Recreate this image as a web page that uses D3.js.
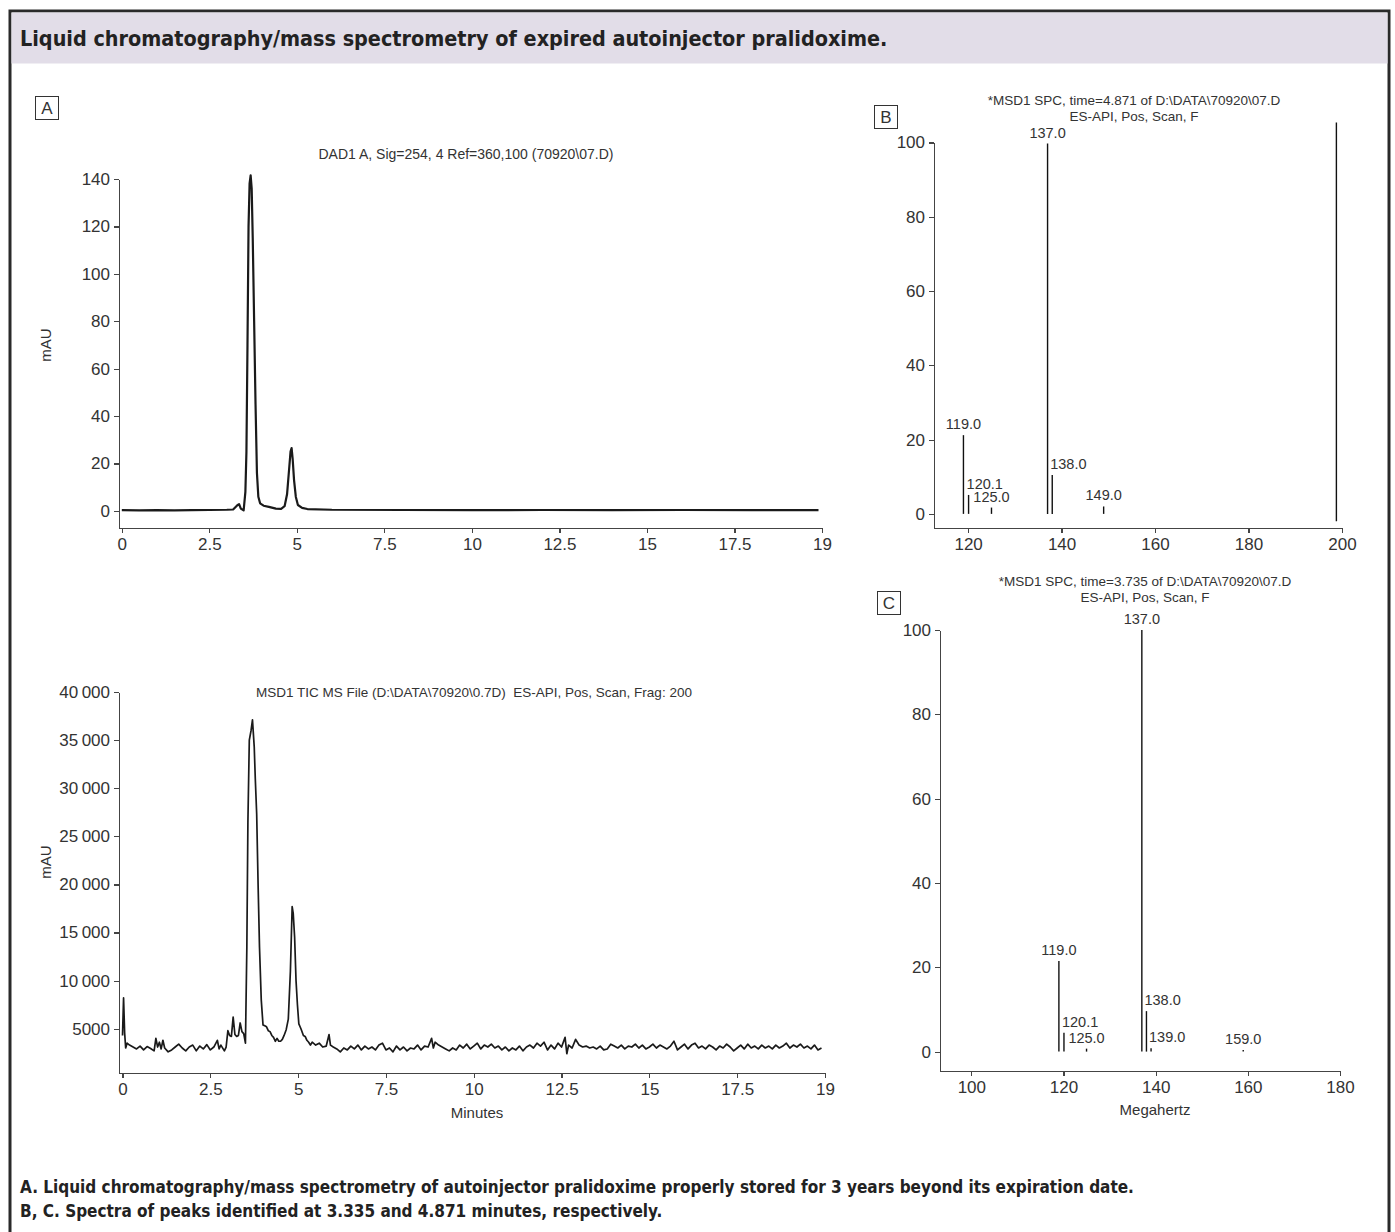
<!DOCTYPE html>
<meta charset="utf-8">
<html>
<head>
<script src="https://d3js.org/d3.v7.min.js" charset="utf-8"></script>
</head>
<style>

body { margin: 0; background: #fff; }

.axis path, .axis line {
  stroke: #444;
  stroke-width: 1.2;
  shape-rendering: crispEdges;
}

.axis text {
  fill: #333;
  font: 17px "Liberation Sans", Arial, sans-serif;
}

.lbl {
  fill: #333;
  font-family: "Liberation Sans", Arial, sans-serif;
}

.head {
  fill: #222;
  font-family: "Liberation Sans Narrow", "DejaVu Sans Condensed", sans-serif;
  font-weight: bold;
}

</style>
<body>
<svg width="1395" height="1232"></svg>

<script type="text/javascript">
// A, top: DAD1 UV trace (minutes, mAU)
var dadTrace = [
  [0, 0.3], [0.5, 0.2], [1.0, 0.3], [1.5, 0.2], [2.0, 0.3], [2.5, 0.4], [3.0, 0.5],
  [3.18, 0.6], [3.3, 2.4], [3.35, 2.9], [3.4, 1.0], [3.48, 0.2], [3.53, 8], [3.56, 25],
  [3.59, 70], [3.62, 120], [3.65, 138], [3.68, 141.5], [3.71, 136], [3.74, 115],
  [3.78, 80], [3.82, 45], [3.86, 16], [3.9, 6], [3.95, 3.2], [4.05, 2.2], [4.2, 1.7],
  [4.4, 1.0], [4.55, 0.9], [4.65, 2], [4.72, 7], [4.77, 16], [4.82, 25], [4.85, 26.5],
  [4.88, 22], [4.92, 13], [4.97, 6], [5.03, 2.5], [5.15, 1.3], [5.3, 0.8], [6, 0.5],
  [8, 0.4], [10, 0.3], [12, 0.4], [14, 0.3], [16, 0.4], [18, 0.3], [19.9, 0.3]
];

// A, bottom: MSD1 total ion current (minutes, counts)
var ticTrace = [
  [0.00, 4300], [0.03, 8200], [0.06, 4600], [0.09, 3000], [0.13, 3500], [0.2, 3300],
  [0.3, 3100], [0.4, 2900], [0.5, 3200], [0.6, 2800], [0.7, 3150], [0.8, 2950], [0.9, 2700],
  [0.95, 4000], [1.0, 3100], [1.05, 3600], [1.1, 2900], [1.15, 3800], [1.2, 3000],
  [1.3, 2600], [1.4, 2800], [1.5, 3100], [1.6, 3400], [1.7, 3000], [1.8, 2700], [1.9, 3100],
  [2.0, 3300], [2.1, 2700], [2.2, 3200], [2.3, 2900], [2.4, 3350], [2.5, 2800], [2.6, 3100],
  [2.7, 3800], [2.75, 2900], [2.8, 3300], [2.9, 2700], [2.95, 3100], [3.0, 4800], [3.05, 4300],
  [3.1, 4200], [3.15, 6200], [3.2, 4400], [3.25, 4200], [3.3, 4300], [3.35, 5600], [3.4, 4700],
  [3.45, 4500], [3.5, 3500], [3.54, 13500], [3.57, 26500], [3.61, 35000], [3.66, 36000],
  [3.70, 37100], [3.75, 34300], [3.78, 31000], [3.82, 27300], [3.86, 20000], [3.9, 13500],
  [3.95, 8000], [4.0, 5400], [4.05, 5300], [4.1, 5200], [4.15, 4800], [4.2, 4700], [4.25, 4300],
  [4.3, 4100], [4.35, 3700], [4.4, 4000], [4.45, 3700], [4.5, 3700], [4.55, 3900], [4.6, 4300],
  [4.66, 4900], [4.72, 6000], [4.78, 11000], [4.83, 17700], [4.86, 17000], [4.9, 14500],
  [4.94, 10000], [4.98, 7500], [5.02, 5500], [5.08, 5000], [5.15, 4300], [5.2, 4200],
  [5.25, 3800], [5.3, 3600], [5.35, 3300], [5.4, 3600], [5.5, 3300], [5.6, 3500], [5.7, 3100],
  [5.8, 3200], [5.88, 4400], [5.92, 3300], [6.0, 3100], [6.1, 2900], [6.2, 2600], [6.3, 3000],
  [6.4, 2800], [6.5, 3200], [6.6, 2900], [6.7, 3300], [6.8, 2800], [6.9, 3200], [7.0, 2900],
  [7.1, 3100], [7.2, 2800], [7.3, 3300], [7.4, 3500], [7.5, 2800], [7.6, 3000], [7.7, 2600],
  [7.8, 3200], [7.9, 2800], [8.0, 3100], [8.1, 2700], [8.2, 3000], [8.3, 2900], [8.4, 3300],
  [8.5, 2800], [8.6, 3200], [8.7, 3100], [8.8, 4000], [8.85, 3000], [8.9, 3600], [9.0, 3300],
  [9.1, 3100], [9.2, 2900], [9.3, 2700], [9.4, 3000], [9.5, 2800], [9.6, 3300], [9.7, 3000],
  [9.8, 3400], [9.9, 2900], [10.0, 3200], [10.1, 3500], [10.2, 2900], [10.3, 3300], [10.4, 3100],
  [10.5, 3400], [10.6, 3000], [10.7, 3200], [10.8, 2800], [10.9, 3100], [11.0, 2700], [11.1, 3000],
  [11.2, 2800], [11.3, 3200], [11.4, 2700], [11.5, 3100], [11.6, 3300], [11.7, 3000], [11.8, 3500],
  [11.9, 3200], [12.0, 3600], [12.1, 2800], [12.2, 3300], [12.3, 2900], [12.4, 3500], [12.5, 3100],
  [12.6, 4100], [12.65, 2400], [12.7, 3300], [12.8, 3000], [12.9, 3900], [12.95, 3600], [13.0, 3300],
  [13.1, 3100], [13.2, 3200], [13.3, 3000], [13.4, 3100], [13.5, 2900], [13.6, 3200], [13.7, 2800],
  [13.8, 2900], [13.9, 3400], [14.0, 3200], [14.1, 3000], [14.2, 3300], [14.3, 2900], [14.4, 3200],
  [14.5, 3100], [14.6, 3400], [14.7, 3000], [14.8, 3300], [14.9, 2900], [15.0, 3100], [15.1, 3400],
  [15.2, 3000], [15.3, 3300], [15.4, 3100], [15.5, 2900], [15.6, 3200], [15.7, 3700], [15.8, 2800],
  [15.9, 3100], [16.0, 3400], [16.1, 2900], [16.2, 3300], [16.3, 3500], [16.4, 3000], [16.5, 3200],
  [16.6, 2900], [16.7, 3300], [16.8, 3100], [16.9, 2800], [17.0, 3200], [17.1, 3000], [17.2, 3400],
  [17.3, 3100], [17.4, 2700], [17.5, 3000], [17.6, 3300], [17.7, 2900], [17.8, 3400], [17.9, 3000],
  [18.0, 3200], [18.1, 2900], [18.2, 3300], [18.3, 3000], [18.4, 3200], [18.5, 2900], [18.6, 3300],
  [18.7, 3000], [18.8, 3200], [18.9, 3500], [19.0, 3000], [19.1, 3300], [19.2, 3100], [19.3, 3400],
  [19.4, 3000], [19.5, 3200], [19.6, 2900], [19.7, 3300], [19.8, 2800], [19.9, 3000]
];

// time axis: last tick is printed "19" in the original
var timeTicks = [0, 2.5, 5, 7.5, 10, 12.5, 15, 17.5, 20];
var timeTickLabels = ["0", "2.5", "5", "7.5", "10", "12.5", "15", "17.5", "19"];
var dadTicks = [0, 20, 40, 60, 80, 100, 120, 140];
var ticTicks = [5000, 10000, 15000, 20000, 25000, 30000, 35000, 40000];
var ticTickLabels = ["5000", "10\u2009000", "15\u2009000", "20\u2009000", "25\u2009000", "30\u2009000", "35\u2009000", "40\u2009000"];

// B: spectrum at 4.871 min
var specBmz = [119.0, 120.1, 125.0, 137.0, 138.0, 149.0];
var specBint = [21.2, 5.1, 1.7, 99.7, 10.5, 2.0];
var specBanchor = ["middle", "start", "middle", "middle", "start", "middle"];
var specBstray = [198.8, -2, 105.4];   // stray vertical line at right edge: m/z, from, to
var specBticksX = [120, 140, 160, 180, 200];

// C: spectrum at 3.735 min
var specCmz = [119.0, 120.1, 125.0, 137.0, 138.0, 139.0, 159.0];
var specCint = [21.5, 4.5, 0.7, 100, 9.6, 0.8, 0.4];
var specCanchor = ["middle", "start", "middle", "middle", "start", "start", "middle"];
var specCticksX = [100, 120, 140, 160, 180];
var specTicksY = [0, 20, 40, 60, 80, 100];

var svg = d3.select("svg");

// frame + title band
svg.append("rect").attr("x", 10).attr("y", 11).attr("width", 1379).attr("height", 1240)
  .attr("fill", "#fff").attr("stroke", "#2a2a2a").attr("stroke-width", 3);
svg.append("rect").attr("x", 11.5).attr("y", 12.5).attr("width", 1376).attr("height", 51)
  .attr("fill", "#e2dde8");
svg.append("text").attr("class", "head").attr("x", 20).attr("y", 46)
  .style("font-size", "21.4px")
  .text("Liquid chromatography/mass spectrometry of expired autoinjector pralidoxime.");

svg.append("text").attr("class", "head").attr("x", 20).attr("y", 1193)
  .style("font-size", "17px")
  .text("A. Liquid chromatography/mass spectrometry of autoinjector pralidoxime properly stored for 3 years beyond its expiration date.");
svg.append("text").attr("class", "head").attr("x", 20).attr("y", 1217)
  .style("font-size", "17px")
  .text("B, C. Spectra of peaks identified at 3.335 and 4.871 minutes, respectively.");

function panelBox(x, y, letter) {
  svg.append("rect").attr("x", x + 0.5).attr("y", y + 0.5).attr("width", 23).attr("height", 23)
    .attr("fill", "none").attr("stroke", "#333").attr("stroke-width", 1);
  svg.append("text").attr("class", "lbl").attr("x", x + 12).attr("y", y + 18)
    .attr("text-anchor", "middle").style("font-size", "17px").text(letter);
}

function drawAxes(x, y, xTicks, xFmt, yTicks, yFmt, x0, y0) {
  svg.append("g").attr("class", "axis")
    .attr("transform", "translate(0," + y0 + ")")
    .call(d3.axisBottom(x).tickValues(xTicks).tickFormat(xFmt).tickSize(5).tickSizeOuter(0).tickPadding(5));
  svg.append("g").attr("class", "axis")
    .attr("transform", "translate(" + x0 + ",0)")
    .call(d3.axisLeft(y).tickValues(yTicks).tickFormat(yFmt).tickSize(5).tickSizeOuter(0).tickPadding(4));
}

function yLabel(x, y, txt) {
  svg.append("text").attr("class", "lbl")
    .attr("transform", "translate(" + x + "," + y + ") rotate(-90)")
    .attr("text-anchor", "middle").style("font-size", "15px").text(txt);
}

var timeFmt = function(d, i) { return timeTickLabels[i]; };

// ---- A top: DAD ----
var xA = d3.scaleLinear().domain([-0.08, 20]).range([119, 822]);
var yA = d3.scaleLinear().domain([-7.2, 140]).range([528, 179]);
drawAxes(xA, yA, timeTicks, timeFmt, dadTicks, d3.format("d"), 119, 528);
svg.append("path").datum(dadTrace)
  .attr("fill", "none").attr("stroke", "#1a1a1a").attr("stroke-width", 2.2).attr("stroke-linejoin", "round")
  .attr("d", d3.line().x(function(d) { return xA(d[0]); }).y(function(d) { return yA(d[1]); }));
svg.append("text").attr("class", "lbl").attr("x", 466).attr("y", 159)
  .attr("text-anchor", "middle").style("font-size", "14px")
  .text("DAD1 A, Sig=254, 4 Ref=360,100 (70920\\07.D)");
yLabel(51, 345, "mAU");
panelBox(35, 96, "A");

// ---- A bottom: TIC ----
var xT = d3.scaleLinear().domain([-0.1, 20]).range([119, 825]);
var yT = d3.scaleLinear().domain([400, 40000]).range([1073, 692]);
drawAxes(xT, yT, timeTicks, timeFmt, ticTicks, function(d, i) { return ticTickLabels[i]; }, 119, 1073);
svg.append("path").datum(ticTrace)
  .attr("fill", "none").attr("stroke", "#1a1a1a").attr("stroke-width", 1.7).attr("stroke-linejoin", "round")
  .attr("d", d3.line().x(function(d) { return xT(d[0]); }).y(function(d) { return yT(d[1]); }));
svg.append("text").attr("class", "lbl").attr("x", 256).attr("y", 697)
  .style("font-size", "13.5px").style("white-space", "pre")
  .text("MSD1 TIC MS File (D:\\DATA\\70920\\0.7D)  ES-API, Pos, Scan, Frag: 200");
yLabel(51, 862, "mAU");
svg.append("text").attr("class", "lbl").attr("x", 477).attr("y", 1118)
  .attr("text-anchor", "middle").style("font-size", "15px").text("Minutes");

// ---- spectra ----
function spectrum(x, y, mz, inten, anchor) {
  var g = svg.append("g");
  g.selectAll("line.pk").data(mz).enter().append("line")
    .attr("x1", function(d) { return x(d); }).attr("x2", function(d) { return x(d); })
    .attr("y1", y(0)).attr("y2", function(d, i) { return y(inten[i]); })
    .attr("stroke", "#111").attr("stroke-width", 1.4);
  g.selectAll("text").data(mz).enter().append("text")
    .attr("class", "lbl").style("font-size", "14.5px")
    .attr("x", function(d, i) { return anchor[i] == "start" ? x(d) - 2 : x(d); })
    .attr("y", function(d, i) { return y(inten[i]) - 6; })
    .attr("text-anchor", function(d, i) { return anchor[i]; })
    .text(function(d) { return d.toFixed(1); });
}

var xB = d3.scaleLinear().domain([112.7, 200]).range([934, 1342]);
var yB = d3.scaleLinear().domain([-3.8, 100]).range([528, 142.5]);
drawAxes(xB, yB, specBticksX, d3.format("d"), specTicksY, d3.format("d"), 934, 528);
spectrum(xB, yB, specBmz, specBint, specBanchor);
svg.append("line")
  .attr("x1", xB(specBstray[0])).attr("x2", xB(specBstray[0]))
  .attr("y1", yB(specBstray[1])).attr("y2", yB(specBstray[2]))
  .attr("stroke", "#111").attr("stroke-width", 1.4);
svg.append("text").attr("class", "lbl").attr("x", 1134).attr("y", 105)
  .attr("text-anchor", "middle").style("font-size", "13.5px")
  .text("*MSD1 SPC, time=4.871 of D:\\DATA\\70920\\07.D");
svg.append("text").attr("class", "lbl").attr("x", 1134).attr("y", 121)
  .attr("text-anchor", "middle").style("font-size", "13.5px")
  .text("ES-API, Pos, Scan, F");
panelBox(874, 105, "B");

var xC = d3.scaleLinear().domain([93.2, 180]).range([940, 1340]);
var yC = d3.scaleLinear().domain([-4.6, 100]).range([1071, 630]);
drawAxes(xC, yC, specCticksX, d3.format("d"), specTicksY, d3.format("d"), 940, 1071);
spectrum(xC, yC, specCmz, specCint, specCanchor);
svg.append("text").attr("class", "lbl").attr("x", 1145).attr("y", 586)
  .attr("text-anchor", "middle").style("font-size", "13.5px")
  .text("*MSD1 SPC, time=3.735 of D:\\DATA\\70920\\07.D");
svg.append("text").attr("class", "lbl").attr("x", 1145).attr("y", 602)
  .attr("text-anchor", "middle").style("font-size", "13.5px")
  .text("ES-API, Pos, Scan, F");
panelBox(877, 591, "C");
svg.append("text").attr("class", "lbl").attr("x", 1155).attr("y", 1115)
  .attr("text-anchor", "middle").style("font-size", "15px").text("Megahertz");

</script>
</body>
</html>
